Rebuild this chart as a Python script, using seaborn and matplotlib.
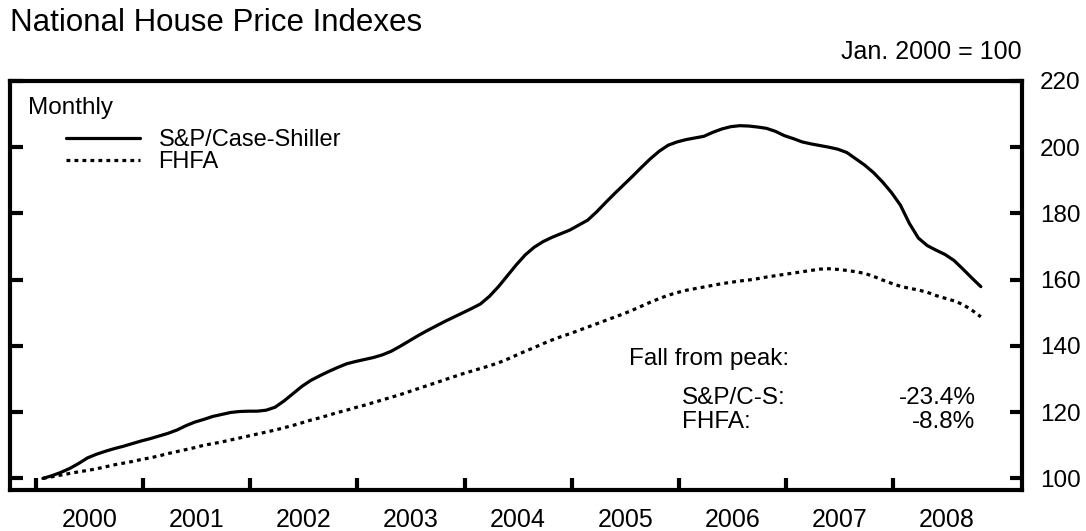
import matplotlib
matplotlib.use("Agg")
import matplotlib.pyplot as plt
import numpy as np
import pandas as pd
import seaborn as sns

# monthly index values, Jan 2000 .. Oct 2008 (Jan 2000 = 100)
sp_case_shiller = [
    100.0, 100.8, 101.8, 103.0, 104.5, 106.2, 107.3, 108.2, 109.0, 109.7, 110.5, 111.3,
    112.0, 112.8, 113.6, 114.6, 115.9, 117.0, 117.8, 118.7, 119.3, 119.9, 120.2, 120.3,
    120.3, 120.6, 121.5, 123.4, 125.6, 127.8, 129.6, 131.0, 132.3, 133.5, 134.6, 135.3,
    135.9, 136.5, 137.3, 138.4, 139.9, 141.5, 143.1, 144.6, 146.0, 147.4, 148.7, 150.0,
    151.3, 152.7, 155.0, 157.9, 161.2, 164.5, 167.5, 169.8, 171.5, 172.8, 173.9, 175.0,
    176.5, 178.0, 180.5, 183.3, 186.0, 188.6, 191.2, 193.9, 196.5, 198.8, 200.6, 201.6,
    202.3, 202.8, 203.3, 204.5, 205.5, 206.2, 206.5, 206.4, 206.1, 205.7, 204.8, 203.5,
    202.6, 201.6, 201.0, 200.5, 200.0, 199.4, 198.4, 196.5, 194.6, 192.3, 189.5, 186.3,
    182.5, 177.0, 172.6, 170.3, 168.9, 167.6, 165.8, 163.2, 160.5, 157.9,
]
fhfa = [
    100.0, 100.5, 101.0, 101.5, 102.0, 102.4, 102.9, 103.5, 104.1, 104.6, 105.1, 105.7,
    106.2, 106.8, 107.5, 108.1, 108.7, 109.3, 110.0, 110.5, 111.0, 111.6, 112.2, 112.8,
    113.4, 114.0, 114.6, 115.3, 116.0, 116.8, 117.6, 118.3, 119.1, 119.9, 120.6, 121.4,
    122.1, 122.9, 123.7, 124.5, 125.3, 126.2, 127.1, 128.0, 128.9, 129.8, 130.7, 131.6,
    132.4, 133.2, 134.0, 134.9, 136.0, 137.2, 138.4, 139.5, 140.7, 141.8, 142.8, 143.7,
    144.7, 145.7, 146.7, 147.7, 148.7, 149.7, 150.8, 152.0, 153.2, 154.3, 155.3, 156.1,
    156.8, 157.3, 157.8, 158.3, 158.8, 159.2, 159.6, 159.9, 160.3, 160.8, 161.2, 161.6,
    162.0, 162.4, 162.8, 163.2, 163.3, 163.1, 162.8, 162.4, 161.9, 161.0, 159.9, 158.9,
    158.0, 157.4, 156.9, 156.2, 155.2, 154.4, 153.6, 152.5, 150.8, 148.8,
]
years = list(range(2000, 2009))
year_labels = [str(y) for y in years]
y_ticks = [100, 120, 140, 160, 180, 200, 220]
fall_labels = ["S&P/C-S:", "FHFA:"]
fall_values = ["-23.4%", "-8.8%"]

months = np.arange(len(sp_case_shiller))
df = pd.DataFrame({
    "date": 2000 + (months + 0.8) / 12,
    "S&P/Case-Shiller": sp_case_shiller,
    "FHFA": fhfa,
})
long = df.melt(id_vars="date", var_name="series", value_name="index")

sns.set_theme(style="white")
plt.rcParams["font.family"] = ["Liberation Sans", "DejaVu Sans"]
plt.rcParams["text.color"] = "black"
plt.rcParams["xtick.color"] = "black"
plt.rcParams["ytick.color"] = "black"

fig = plt.figure(figsize=(10.86, 5.31), dpi=100)
ax = fig.add_axes([0.0092, 0.0772, 0.9318, 0.7703])

sns.lineplot(data=long, x="date", y="index", hue="series", style="series",
             palette={"S&P/Case-Shiller": "black", "FHFA": "black"},
             dashes={"S&P/Case-Shiller": "", "FHFA": (1.2, 1.3)},
             linewidth=2.3, ax=ax)

ax.set_xlim(1999.76, 2009.2)
ax.set_ylim(96.5, 220)
ax.set_xlabel("")
ax.set_ylabel("")

for s in ax.spines.values():
    s.set_linewidth(3)
    s.set_color("black")

ax.set_yticks(y_ticks)
ax.tick_params(axis="y", which="major", direction="in", left=True, right=True,
               labelleft=False, labelright=True, length=9, width=3,
               pad=13, labelsize=17.5, labelcolor="black")
ax.set_xticks(years)
ax.set_xticks([y + 0.5 for y in years], minor=True)
ax.set_xticklabels([], minor=False)
ax.set_xticklabels(year_labels, minor=True)
ax.tick_params(axis="x", which="major", direction="in", bottom=True,
               length=9, width=3)
ax.tick_params(axis="x", which="minor", bottom=True, length=0,
               pad=13, labelsize=18, labelcolor="black")

# legend
leg = ax.legend(handles=ax.get_legend_handles_labels()[0],
                labels=["S&P/Case-Shiller", "FHFA"],
                loc="upper left", bbox_to_anchor=(0.044, 0.912),
                frameon=False, fontsize=17, handlelength=3.1,
                handletextpad=0.8, labelspacing=0.0, borderpad=0)
for t in leg.get_texts():
    t.set_color("black")
ax.text(0.018, 0.935, "Monthly", transform=ax.transAxes, fontsize=17.5,
        ha="left", va="center", color="black")

# annotations
ax.text(0.612, 0.32, "Fall from peak:", transform=ax.transAxes,
        fontsize=17.5, ha="left", va="center", color="black")
for i, (lab, val) in enumerate(zip(fall_labels, fall_values)):
    yy = 0.225 - i * 0.058
    ax.text(0.664, yy, lab, transform=ax.transAxes, fontsize=17.5,
            ha="left", va="center", color="black")
    ax.text(0.954, yy, val, transform=ax.transAxes, fontsize=17.5,
            ha="right", va="center", color="black")

fig.text(0.009, 0.957, "National House Price Indexes", fontsize=22.5,
         ha="left", va="center", color="black")
fig.text(0.941, 0.902, "Jan. 2000 = 100", fontsize=18, ha="right",
         va="center", color="black")

fig.savefig("out.png", dpi=100)
